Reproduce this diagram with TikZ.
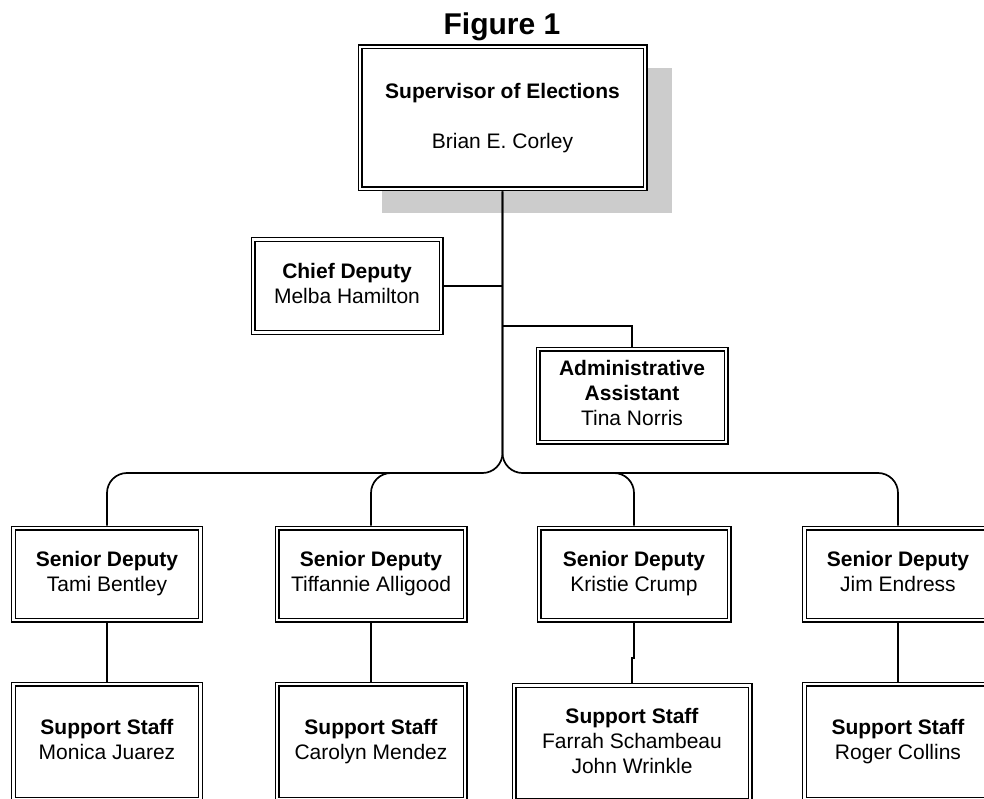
\documentclass[tikz,border=0pt]{standalone}
\usepackage{fontspec}
\setmainfont{Liberation Sans}
\newcommand{\ts}{\rule[-5pt]{0pt}{20pt}}
\begin{document}
\begin{tikzpicture}[x=1pt,y=-1pt,
  box/.style={draw=black,line width=1.3pt,double=white,double distance=2.4pt,
    fill=white,inner sep=0pt,outer sep=2.5pt,align=center,
    font=\fontsize{21}{25}\selectfont},
  conn/.style={draw=black,line width=1.7pt},
  shadow/.style={fill=black!20,draw=none}]
\useasboundingbox (0,0) rectangle (984,799);
% title
\node[anchor=base,font=\bfseries\fontsize{30}{34}\selectfont] (title) at (502,35) {Figure 1};
% shadow
\fill[black!20] (382,68) rectangle (672,213);
% boxes
\node[box,minimum width=285pt,minimum height=142pt] (sup) at (502.5,118)
  {\ts\textbf{Supervisor of Elections}\\[25pt]Brian E. Corley\ts};
\node[box,minimum width=188pt,minimum height=93pt] (chief) at (347,286)
  {\ts\textbf{Chief Deputy}\\Melba Hamilton\ts};
\node[box,minimum width=188pt,minimum height=93pt] (admin) at (632,395.5)
  {\ts\textbf{Administrative}\\\textbf{Assistant}\\Tina Norris\ts};
\node[box,minimum width=187pt,minimum height=92pt] (s1) at (107,574)
  {\ts\textbf{Senior Deputy}\\Tami Bentley\ts};
\node[box,minimum width=188pt,minimum height=92pt] (s2) at (371,574)
  {\ts\textbf{Senior Deputy}\\Tiffannie Alligood\ts};
\node[box,minimum width=190pt,minimum height=92pt] (s3) at (634,574)
  {\ts\textbf{Senior Deputy}\\Kristie Crump\ts};
\node[box,minimum width=187pt,minimum height=92pt] (s4) at (898,574)
  {\ts\textbf{Senior Deputy}\\Jim Endress\ts};
\node[box,minimum width=187pt,minimum height=115pt] (p1) at (107,741.5)
  {\ts\textbf{Support Staff}\\Monica Juarez\ts};
\node[box,minimum width=188pt,minimum height=115pt] (p2) at (371,741.5)
  {\ts\textbf{Support Staff}\\Carolyn Mendez\ts};
\node[box,minimum width=236pt,minimum height=115pt] (p3) at (632,743)
  {\ts\textbf{Support Staff}\\Farrah Schambeau\\John Wrinkle\ts};
\node[box,minimum width=187pt,minimum height=115pt] (p4) at (898,741.5)
  {\ts\textbf{Support Staff}\\Roger Collins\ts};
% connector coordinates
\coordinate (bus) at (502.5,473);
\coordinate (aj) at (502.5,326);
\coordinate (jog1) at (634,658);
\coordinate (jog2) at (632,658);
% connectors
\draw[conn,rounded corners=20pt] (sup.south) -- (bus) -- (s1.north |- bus) -- (s1.north);
\draw[conn,rounded corners=20pt] (sup.south) -- (bus) -- (s4.north |- bus) -- (s4.north);
\draw[conn,rounded corners=20pt] (s2.north) -- (s2.north |- bus) -- ([xshift=40pt]s2.north |- bus);
\draw[conn,rounded corners=20pt] (s3.north) -- (s3.north |- bus) -- ([xshift=-40pt]s3.north |- bus);
\draw[conn] (chief.east) -- (sup.south |- chief.east);
\draw[conn] (aj) -| (admin.north);
\draw[conn] (s1.south) -- (p1.north);
\draw[conn] (s2.south) -- (p2.north);
\draw[conn] (s3.south) -- (jog1) -- (jog2) -- (p3.north);
\draw[conn] (s4.south) -- (p4.north);
\end{tikzpicture}
\end{document}
